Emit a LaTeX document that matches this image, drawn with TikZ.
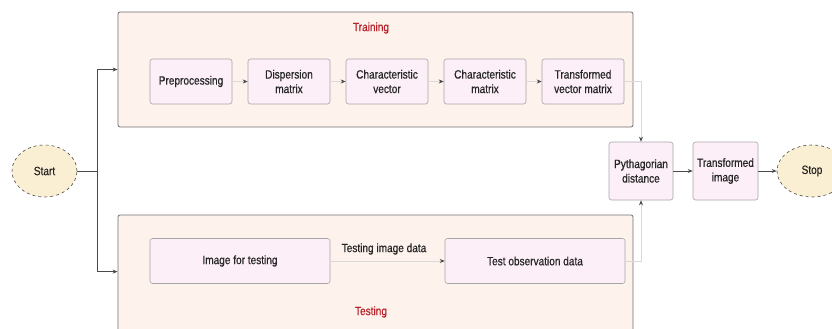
\documentclass[tikz,border=0pt]{standalone}
\usepackage{fontspec}
\setmainfont{Liberation Sans}[FakeStretch=0.84, FakeBold=0.6]
\usetikzlibrary{arrows.meta,shapes.geometric,calc}

\definecolor{groupfill}{HTML}{FDF2EC}
\definecolor{stepfill}{HTML}{FCEFF8}
\definecolor{termfill}{HTML}{FBEFD3}
\definecolor{linegray}{HTML}{4A4A4A}
\definecolor{titlered}{HTML}{B8232B}

\tikzset{
  group/.style={draw=linegray!80, fill=groupfill, rounded corners=2pt, line width=0.8pt, inner sep=0pt},
  stepbox/.style={draw=gray!70, fill=stepfill, rounded corners=2.5pt, line width=0.6pt,
    minimum width=82pt, minimum height=45pt, inner sep=1pt, align=center,
    font=\fontsize{12}{14.5}\selectfont, text=black!85},
  terminal/.style={ellipse, draw=linegray, dashed, fill=termfill, line width=0.6pt,
    minimum width=65pt, minimum height=52pt, font=\fontsize{12}{14.5}\selectfont, text=black!85},
  grouptitle/.style={text=titlered, font=\fontsize{12}{14.5}\selectfont},
  arr/.style={draw=linegray, line width=0.7pt, -{Stealth[length=5pt,width=4pt]}},
  faintarr/.style={draw=black!15, line width=0.6pt, -{Stealth[length=5pt,width=4pt,color=linegray]}}
}

\begin{document}
\begin{tikzpicture}[x=1pt, y=-1pt]
  \useasboundingbox (0,0) rectangle (832,329);
  \begin{scope}
    \clip (0,0) rectangle (832,329);

    % groups
    \node[group, minimum width=515pt, minimum height=115pt] (train) at (375.5,69.5) {};
    \node[group, minimum width=515pt, minimum height=130pt] (test) at (375.5,280) {};
    \node[grouptitle] (traintitle) at (371,28) {Training};
    \node[grouptitle] (testtitle) at (371,312) {Testing};

    % training chain
    \foreach \i/\txt in {1/Preprocessing, 2/Dispersion\\matrix, 3/Characteristic\\vector,
                         4/Characteristic\\matrix, 5/Transformed\\vector matrix}{
      \node[stepbox] (tr\i) at ({191+98*(\i-1)},81.5) {\txt};
    }
    \foreach \a/\b in {1/2, 2/3, 3/4, 4/5}{
      \draw[faintarr] (tr\a) -- (tr\b);
    }

    % testing chain
    \node[stepbox, minimum width=180pt] (imgtest) at (240,261) {Image for testing};
    \node[stepbox, minimum width=180pt] (obs) at (535,261) {Test observation data};
    \node[font=\fontsize{12}{14.5}\selectfont, text=black!85] (imgdata) at (384,249) {Testing image data};
    \draw[faintarr] (imgtest) -- (obs);

    % merge
    \node[stepbox, minimum width=64pt, minimum height=58pt] (pyth) at (641,171) {Pythagorian\\distance};
    \node[stepbox, minimum width=65pt, minimum height=58pt] (timg) at (725.5,171) {Transformed\\image};
    \draw[faintarr] (tr5.east) -| (pyth.north);
    \draw[faintarr] (obs.east) -| (pyth.south);
    \draw[arr] (pyth) -- (timg);

    % terminals
    \node[terminal] (start) at (44.5,171) {Start};
    \node[terminal, minimum width=70pt] (stop) at (812,171) {Stop};
    \draw[arr] (timg) -- (stop);

    \coordinate (fork) at (97,171);
    \coordinate (testin) at ($(test.north west)+(0,57)$);
    \draw[draw=linegray, line width=0.7pt] (start.east) -- (fork);
    \draw[arr] (fork) |- (train.west);
    \draw[arr] (fork) |- (testin);
  \end{scope}
\end{tikzpicture}
\end{document}
